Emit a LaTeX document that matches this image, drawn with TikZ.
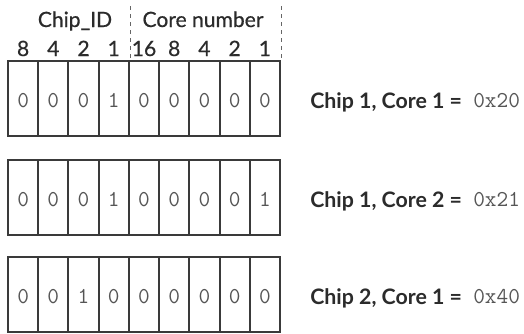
\documentclass[tikz,border=0pt]{standalone}
\usepackage{fontspec}
\setmainfont{Lato}
\newfontfamily\headfont{Lato}[FakeBold=0.6]
\definecolor{ink}{HTML}{2B2B2B}
\definecolor{bitline}{HTML}{3A3A3A}
\definecolor{digit}{HTML}{555555}
\definecolor{dash}{HTML}{666666}
\begin{document}
\begin{tikzpicture}[x=0.75pt,y=-0.75pt,
  cell/.style={draw=bitline, fill=white, line width=1.5pt, minimum width=22.67pt, minimum height=56.25pt, inner sep=0pt, outer sep=0pt},
  bitdigit/.style={font=\fontsize{17}{19}\selectfont\ttfamily, text=digit, anchor=base, inner sep=0pt},
  head/.style={font=\fontsize{15.8}{18}\selectfont\headfont, text=ink, inner sep=0pt, anchor=base},
  lbl/.style={font=\fontsize{16}{18}\selectfont\bfseries, text=ink, anchor=base west, inner sep=0pt},
  hexval/.style={font=\fontsize{17}{19}\selectfont\ttfamily, text=digit, anchor=base west, inner sep=0pt},
  sep/.style={draw=dash, dashed, dash pattern=on 3pt off 3pt, line width=0.6pt}]
\useasboundingbox (0,0) rectangle (524,333);
% header
\node[head] (chipid) at (75,27) {Chip\_ID};
\node[head] (corenum) at (203,27) {Core number};
\foreach \v [count=\i] in {8,4,2,1,16,8,4,2,1}{
  \node[head] (w\i) at ({8+30.22*(\i-0.5)},56) {\v};
}
\coordinate (d1t) at (130,6); \coordinate (d1b) at (130,58);
\coordinate (d2t) at (281,6); \coordinate (d2b) at (281,58);
\draw[sep] (d1t) -- (d1b);
\draw[sep] (d2t) -- (d2b);
% rows
\foreach \row/\yy/\bits in {1/98.5/{0,0,0,1,0,0,0,0,0}, 2/197.5/{0,0,0,1,0,0,0,0,1}, 3/294.5/{0,0,1,0,0,0,0,0,0}}{
  \foreach \b [count=\i] in \bits {
    \node[cell] (r\row c\i) at ({8+30.22*(\i-0.5)},\yy) {};
    \node[bitdigit] (t\row c\i) at ({8+30.22*(\i-0.5)},\yy+8.5) {\b};
  }
}
\node[lbl] (l1) at (310,108) {Chip 1, Core 1 =};
\node[hexval] (h1) at (473,107) {0x20};
\node[lbl] (l2) at (310,207) {Chip 1, Core 2 =};
\node[hexval] (h2) at (473,206) {0x21};
\node[lbl] (l3) at (310,304) {Chip 2, Core 1 =};
\node[hexval] (h3) at (473,303) {0x40};
\end{tikzpicture}
\end{document}
